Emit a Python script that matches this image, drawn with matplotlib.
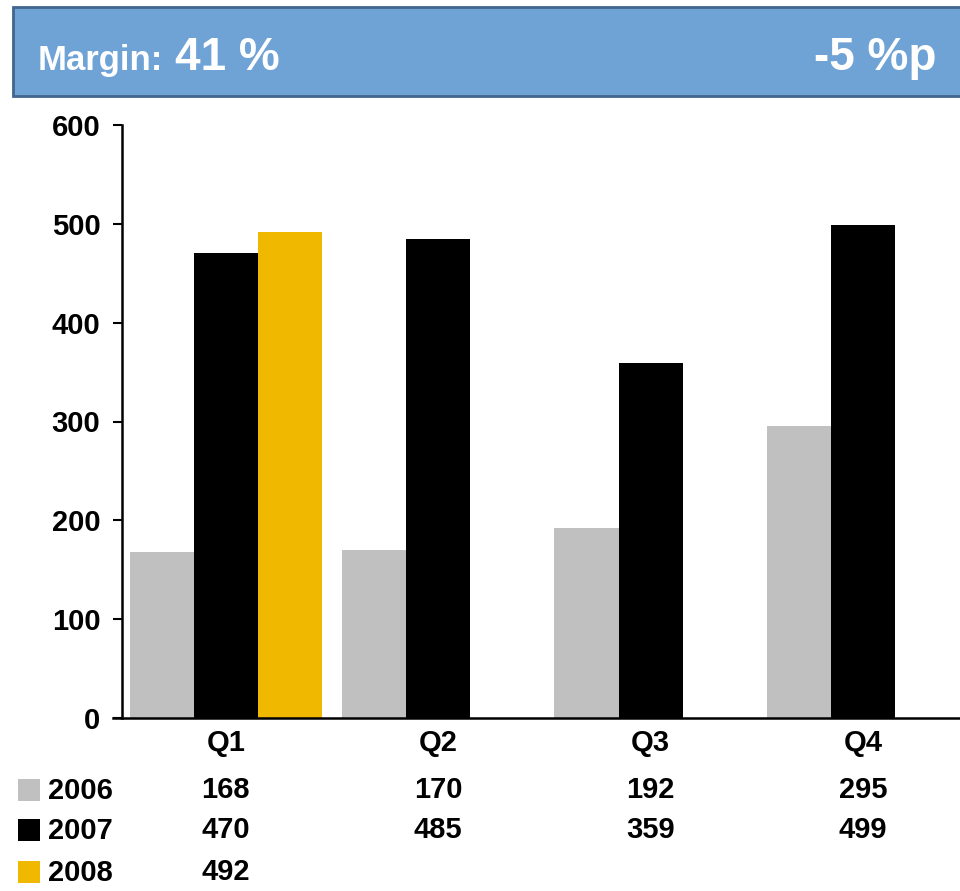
import numpy as np
import matplotlib
matplotlib.use("Agg")
import matplotlib.pyplot as plt
from matplotlib.patches import Rectangle
from matplotlib.transforms import blended_transform_factory

plt.rcParams['font.family'] = ['Liberation Sans', 'DejaVu Sans']
plt.rcParams['font.weight'] = 'bold'

quarters = ["Q1", "Q2", "Q3", "Q4"]
years = ["2006", "2007", "2008"]
v2006 = [168, 170, 192, 295]
v2007 = [470, 485, 359, 499]
v2008 = [492, None, None, None]
series = [v2006, v2007, v2008]
colors = ["#c0c0c0", "#000000", "#f0b900"]

margin_txt = "41 %"
delta_txt = "-5 %p"

W, H = 960, 891
fig = plt.figure(figsize=(W / 100, H / 100), dpi=100)

def fx(px):
    return px / W

def fy(py):
    return 1 - py / H

ax = fig.add_axes([fx(122), fy(718), fx(960) - fx(122), fy(125) - fy(718)])

x = np.arange(len(quarters))
bw = 0.302
for i, (vals, c) in enumerate(zip(series, colors)):
    xs = [xi + (i - 1) * bw for xi, v in zip(x, vals) if v is not None]
    hs = [v for v in vals if v is not None]
    ax.bar(xs, hs, width=bw, color=c, edgecolor="none", zorder=2)

fs = 21
ax.set_xlim(-0.489, 3.456)
ax.set_ylim(0, 600)
ax.set_yticks(range(0, 601, 100))
ax.tick_params(axis="y", direction="out", length=6.5, width=1.5, pad=9,
               labelsize=fs)
ax.set_xticks([])
for s in ["top", "right"]:
    ax.spines[s].set_visible(False)
ax.spines["left"].set_linewidth(1.8)
ax.spines["bottom"].set_linewidth(1.8)
ax.spines["bottom"].set_bounds(-0.53, 3.456)
ax.spines["bottom"].set_zorder(3)
for lab in ax.get_yticklabels():
    lab.set_fontweight("bold")

# category labels and value table below the axis
tr = blended_transform_factory(ax.transData, fig.transFigure)
for xi, q in zip(x, quarters):
    fig.text(xi, fy(743), q, transform=tr, ha="center", va="center",
             fontsize=fs, fontweight="bold")

row_y = [790, 830, 872]
for vals, ry in zip(series, row_y):
    for xi, v in zip(x, vals):
        if v is not None:
            fig.text(xi, fy(ry), str(v), transform=tr, ha="center",
                     va="center", fontsize=fs, fontweight="bold")

# legend squares
for yr, c, ry in zip(years, colors, row_y):
    fig.patches.append(Rectangle((fx(18), fy(ry + 11)), fx(22), 22 / H,
                                 transform=fig.transFigure, facecolor=c,
                                 edgecolor="none"))
    fig.text(fx(48), fy(ry + 1), yr, ha="left", va="center", fontsize=fs,
             fontweight="bold")

# header box
fig.patches.append(Rectangle((fx(13), fy(96)), fx(960), fy(7) - fy(96),
                             transform=fig.transFigure, facecolor="#6fa2d5",
                             edgecolor="#41658e", linewidth=2, clip_on=False))
fig.text(fx(38), fy(70), "Margin:", ha="left", va="baseline", fontsize=25,
         fontweight="bold", color="white")
fig.text(fx(175), fy(70), margin_txt, ha="left", va="baseline", fontsize=33,
         fontweight="bold", color="white")
fig.text(fx(937), fy(70), delta_txt, ha="right", va="baseline", fontsize=33,
         fontweight="bold", color="white")

fig.savefig("out.png", dpi=100)
